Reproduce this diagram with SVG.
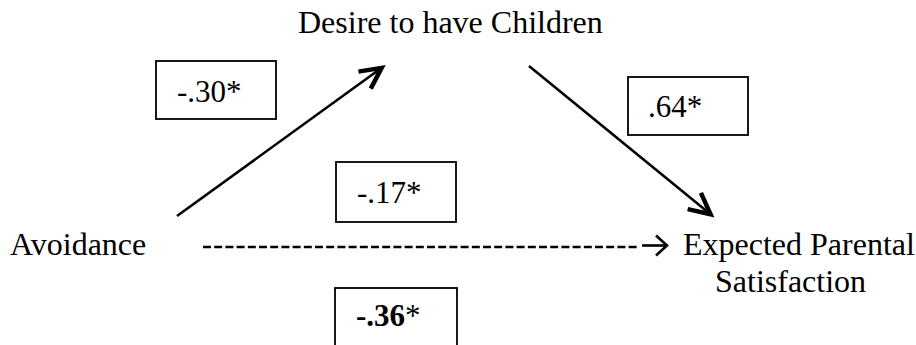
<svg xmlns="http://www.w3.org/2000/svg" width="916" height="345" viewBox="0 0 916 345">
  <defs>
    <style>
      .lbl { font-family: "Liberation Serif", "Times New Roman", serif; font-size: 32px; fill: #000; }
      .num { font-family: "Liberation Serif", "Times New Roman", serif; font-size: 31px; fill: #000; }
      .box { fill: #fff; stroke: #000; stroke-width: 1.8; }
      .path { fill: none; stroke: #000; stroke-width: 2.6; }
      .dash { fill: none; stroke: #000; stroke-width: 2.6; stroke-dasharray: 8 3.2; }
      .head { fill: none; stroke: #000; stroke-width: 4.5; stroke-linejoin: miter; }
      .small-head { fill: none; stroke: #000; stroke-width: 2.6; stroke-linejoin: miter; }
    </style>
    <marker id="chev" markerUnits="userSpaceOnUse" markerWidth="40" markerHeight="40" viewBox="-30 -20 40 40" refX="-2" refY="0" orient="auto" overflow="visible">
      <path class="head" d="M-21,-10.5 L0,0 L-21,10.5"/>
    </marker>
  </defs>

  <rect width="916" height="345" fill="#fff"/>

  <g id="connectors">
    <line id="avoid-desire" class="path" x1="177" y1="216" x2="380" y2="69" marker-end="url(#chev)"/>
    <line id="desire-eps" class="path" x1="529" y1="66" x2="709" y2="213" marker-end="url(#chev)"/>
    <line id="avoid-eps" class="dash" x1="203" y1="247" x2="639" y2="247"/>
    <g id="avoid-eps-head">
      <line class="small-head" x1="642" y1="245.5" x2="667" y2="245.5"/>
      <path class="small-head" d="M656,235.5 L667,245.5 L656,255.5"/>
    </g>
  </g>

  <g id="node-desire">
    <text class="lbl" x="298" y="33">Desire to have Children</text>
  </g>
  <g id="node-avoidance">
    <text class="lbl" x="10" y="255">Avoidance</text>
  </g>
  <g id="node-eps">
    <text class="lbl" x="683" y="255">Expected Parental</text>
    <text class="lbl" x="715" y="292">Satisfaction</text>
  </g>

  <g id="coef-a">
    <rect class="box" x="156" y="61" width="120" height="58"/>
    <text class="num" x="177" y="102">-.30*</text>
  </g>
  <g id="coef-b">
    <rect class="box" x="628" y="77" width="120" height="58"/>
    <text class="num" x="648" y="117">.64*</text>
  </g>
  <g id="coef-c-prime">
    <rect class="box" x="336" y="162" width="120" height="60"/>
    <text class="num" x="357" y="203">-.17*</text>
  </g>
  <g id="coef-c">
    <rect class="box" x="335" y="288" width="122" height="70"/>
    <text class="num" x="356" y="326"><tspan font-weight="bold">-.36</tspan>*</text>
  </g>
</svg>
